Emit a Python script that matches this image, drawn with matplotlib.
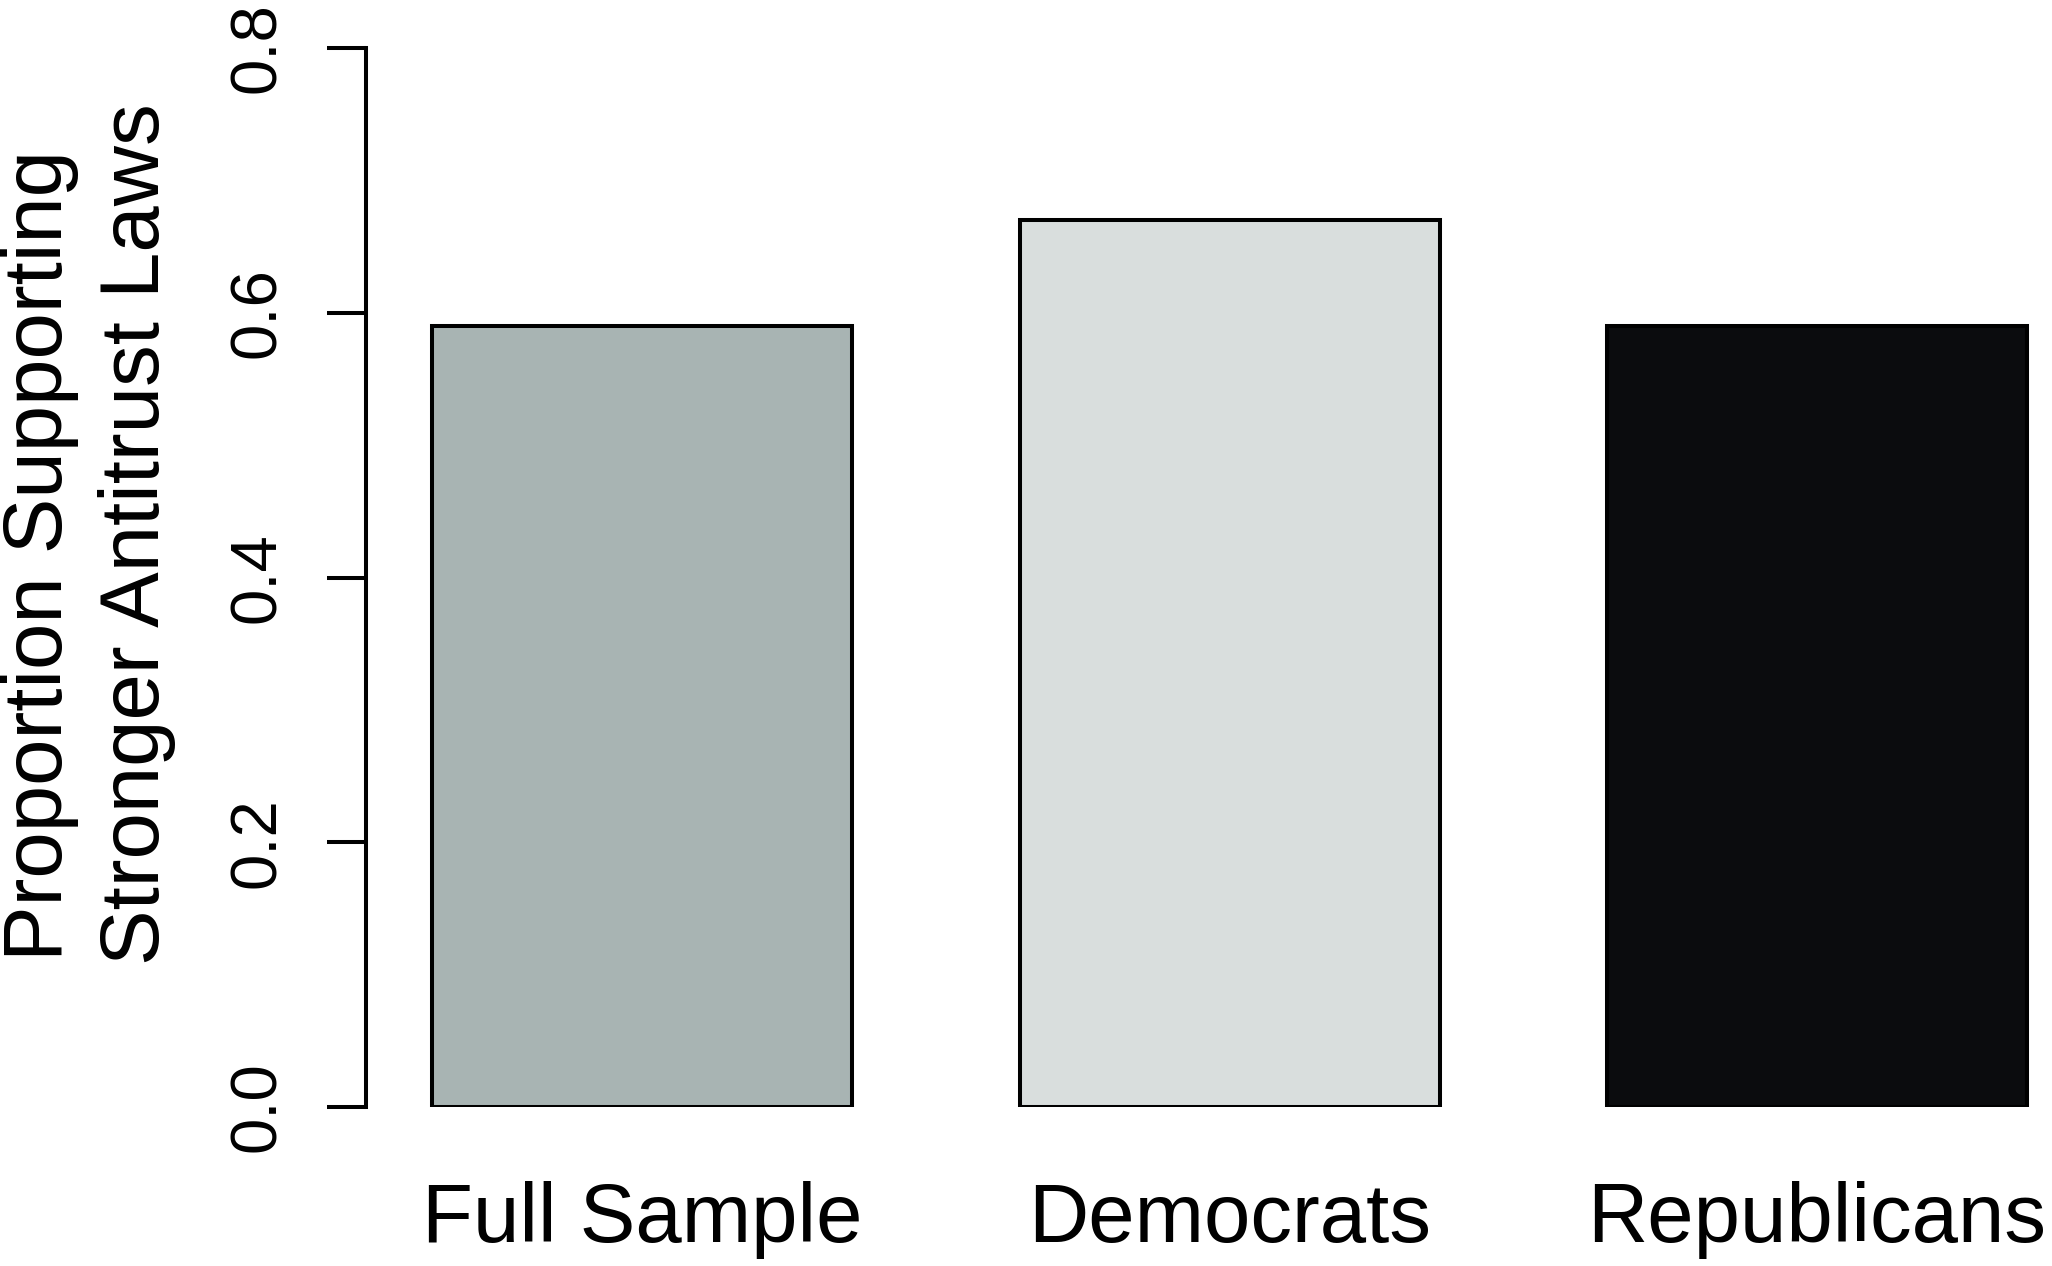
import matplotlib.pyplot as plt

# 数据
groups = ["Full Sample", "Democrats", "Republicans"]
support = [0.59, 0.67, 0.59]
bar_colors = ["#a8b4b3", "#d9dedd", "#0b0c0e"]
y_ticks = [0.0, 0.2, 0.4, 0.6, 0.8]
ylabel_lines = ["Proportion Supporting", "Stronger Antitrust Laws"]

plt.rcParams['font.family'] = ['Liberation Sans', 'DejaVu Sans']

W, H = 2052, 1266
fig = plt.figure(figsize=(W / 100, H / 100), dpi=100)

# 坐标轴位置（按像素换算）
left, right, bottom, top = 366, 2052, 1107, 48
ax = fig.add_axes([left / W, 1 - bottom / H, (right - left) / W, (bottom - top) / H])

x = range(len(groups))
ax.bar(x, support, width=0.715, color=bar_colors, edgecolor="black", linewidth=2.9)

ax.set_xlim(-0.47, 2.4)
ax.set_ylim(0, 0.8)

for s in ["top", "right", "bottom"]:
    ax.spines[s].set_visible(False)
ax.spines["left"].set_linewidth(2.9)
ax.spines["left"].set_capstyle("projecting")

ax.set_yticks(y_ticks)
ax.set_yticklabels(["{:.1f}".format(v) for v in y_ticks], rotation=90, va="center", fontsize=47)
ax.tick_params(axis="y", length=28, width=2.9, pad=28)

ax.set_xticks(list(x))
ax.set_xticklabels(groups, fontsize=60)
ax.tick_params(axis="x", length=0, pad=53)

# 两行纵轴标题
fig.text(40 / W, 1 - 556 / H, ylabel_lines[0], rotation=90, ha="center", va="center", fontsize=60)
fig.text(137 / W, 1 - 534 / H, ylabel_lines[1], rotation=90, ha="center", va="center", fontsize=60)

fig.savefig("out.png", dpi=100)
